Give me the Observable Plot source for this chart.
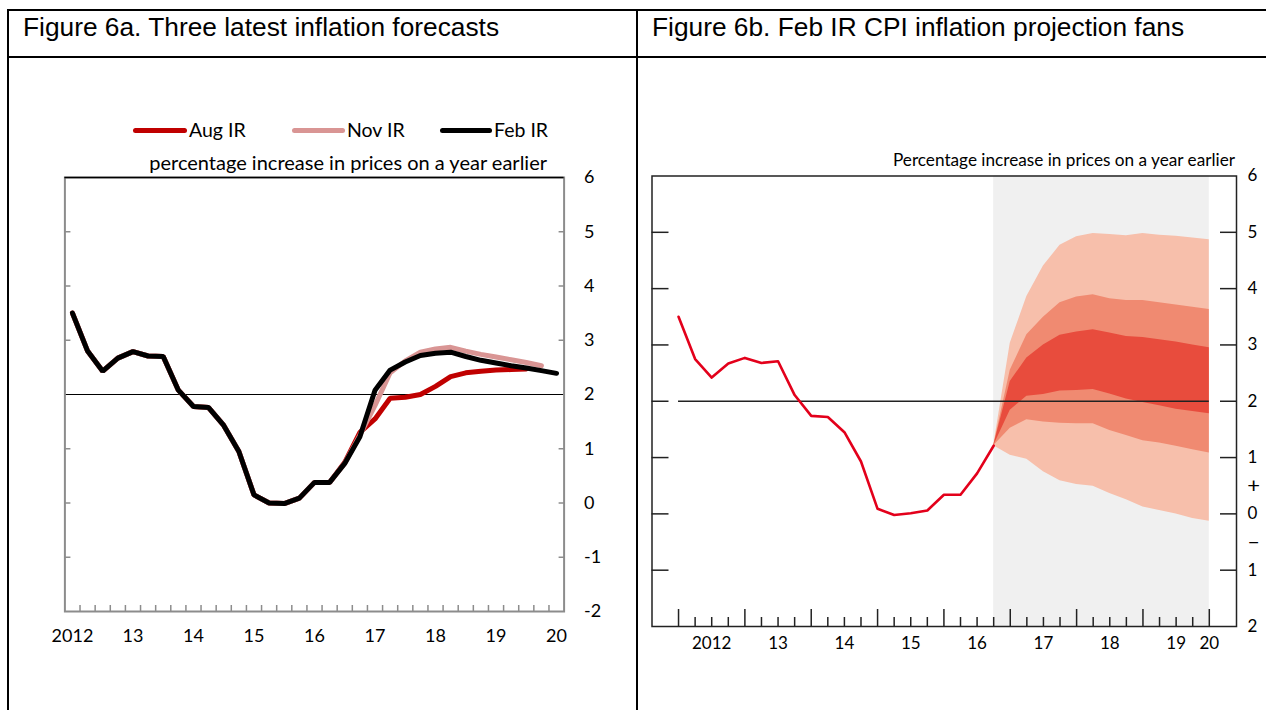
<!DOCTYPE html>
<html><head><meta charset="utf-8">
<script src="https://cdn.jsdelivr.net/npm/d3@7"></script>
<script src="https://cdn.jsdelivr.net/npm/@observablehq/plot@0.6"></script>
<style>
html,body{margin:0;padding:0;background:#fff;}
#page{position:relative;width:1266px;height:710px;overflow:hidden;background:#fff;}
.bl{position:absolute;background:#000;}
.title{position:absolute;font-family:"Liberation Sans",Arial,sans-serif;font-size:26.3px;line-height:30px;color:#000;white-space:nowrap;}
.txt{position:absolute;font-family:Lato,sans-serif;white-space:nowrap;color:#000;}
.sw{position:absolute;height:5px;border-radius:3px;}
.chart{position:absolute;}
</style></head>
<body><div id="page">
  <div class="bl" style="left:7px;top:9px;width:1270px;height:2px"></div>
  <div class="bl" style="left:7px;top:56px;width:1270px;height:2px"></div>
  <div class="bl" style="left:7px;top:9px;width:2px;height:720px"></div>
  <div class="bl" style="left:636px;top:9px;width:2px;height:720px"></div>
  <div class="title" style="left:23px;top:12px">Figure 6a. Three latest inflation forecasts</div>
  <div class="title" style="left:652px;top:12px">Figure 6b. Feb IR CPI inflation projection fans</div>
  <div id="legend"></div>
  <div class="txt" style="right:719px;top:150px;font-size:20px;line-height:24px">percentage increase in prices on a year earlier</div>
  <div class="txt" style="right:31px;top:149px;font-size:17.2px;line-height:22px">Percentage increase in prices on a year earlier</div>
  <div id="a" class="chart" style="left:10px;top:59px"></div>
  <div id="b" class="chart" style="left:639px;top:59px"></div>
</div>
<script>
// ---------- Figure 6a data (quarterly, first value = 2012 Q1) ----------
const startYear = 2012;
const cpiOutturn6a = [3.5, 2.8, 2.43, 2.67, 2.79, 2.71, 2.7, 2.08, 1.78, 1.76, 1.43, 0.95, 0.15, 0.0, -0.01, 0.09, 0.38, 0.38, 0.73, 1.22];
const augProjection = [0.75, 1.3, 1.55, 1.93, 1.95, 2.0, 2.15, 2.33, 2.4, 2.43, 2.45, 2.46, 2.47];   // from 2016 Q3
const novProjection = [1.25, 1.8, 2.4, 2.62, 2.78, 2.84, 2.87, 2.8, 2.74, 2.69, 2.64, 2.59, 2.53];   // from 2016 Q4
const febProjection = [2.08, 2.45, 2.6, 2.72, 2.76, 2.78, 2.7, 2.63, 2.58, 2.53, 2.49, 2.44, 2.39];  // from 2017 Q1
const seriesNames = ["Aug IR", "Nov IR", "Feb IR"];
const seriesColors = ["#c00000", "#d99594", "#000000"];
const yearTicks6a = [2012, 2013, 2014, 2015, 2016, 2017, 2018, 2019, 2020];
const yearLabels6a = ["2012", "13", "14", "15", "16", "17", "18", "19", "20"];
const yTicks6a = [-2, -1, 0, 1, 2, 3, 4, 5, 6];
const yLabels6a = ["-2", "-1", "0", "1", "2", "3", "4", "5", "6"];

// ---------- Figure 6b data ----------
const cpiOutturn6b = [3.5, 2.75, 2.42, 2.67, 2.77, 2.68, 2.71, 2.11, 1.74, 1.72, 1.45, 0.93, 0.09, -0.02, 0.01, 0.06, 0.34, 0.34, 0.72, 1.21];
// fan quarters from 2016 Q4 to 2020 Q1
const fanLightHigh = [1.21, 3.03, 3.86, 4.40, 4.77, 4.92, 4.98, 4.96, 4.94, 4.98, 4.95, 4.93, 4.90, 4.87];
const fanMedHigh   = [1.21, 2.55, 3.18, 3.49, 3.75, 3.85, 3.89, 3.82, 3.79, 3.79, 3.75, 3.71, 3.67, 3.63];
const fanDarkHigh  = [1.21, 2.35, 2.77, 3.00, 3.17, 3.23, 3.27, 3.21, 3.15, 3.13, 3.09, 3.05, 3.00, 2.95];
const fanDarkLow   = [1.21, 1.84, 2.09, 2.12, 2.18, 2.19, 2.21, 2.13, 2.04, 1.98, 1.92, 1.86, 1.82, 1.78];
const fanMedLow    = [1.21, 1.52, 1.67, 1.63, 1.61, 1.60, 1.60, 1.48, 1.39, 1.30, 1.26, 1.20, 1.14, 1.08];
const fanLightLow  = [1.21, 1.04, 0.97, 0.75, 0.59, 0.52, 0.49, 0.36, 0.25, 0.12, 0.06, 0.00, -0.08, -0.13];
const fanColors = ["#f7bfab", "#f08a71", "#e84c3d"];
const projectionPeriod = [{start: 2016.75, end: 2020}];
const targetLine = [{v: 2, from: 2012, to: 2020}];
const yearTicks6b = [2012, 2013, 2014, 2015, 2016, 2017, 2018, 2019, 2020];
const labelPos6b = [2012.5, 2013.5, 2014.5, 2015.5, 2016.5, 2017.5, 2018.5, 2019.5, 2020];
const labelTxt6b = ["2012", "13", "14", "15", "16", "17", "18", "19", "20"];
const yLabelPos6b = [6, 5, 4, 3, 2, 1, 0, -1, -2];
const yLabelTxt6b = ["6", "5", "4", "3", "2", "1", "0", "1", "2"];
const ySignPos6b = [0.5, -0.5];
const ySignTxt6b = ["+", "\u2013"];

// ---------- build tables ----------
const q = (i, offset) => startYear + (i + offset) / 4;
function series(name, hist, nHist, proj) {
  const vals = hist.slice(0, nHist).concat(proj);
  return vals.map((v, i) => ({name, t: q(i, 0), v}));
}
const augData = series("Aug IR", cpiOutturn6a, 18, augProjection);
const novData = series("Nov IR", cpiOutturn6a, 19, novProjection);
const febData = series("Feb IR", cpiOutturn6a, 20, febProjection);
const hist6b = cpiOutturn6b.map((v, i) => ({t: q(i, 0), v}));
const fan = fanLightHigh.map((_, i) => ({
  t: 2016.75 + i / 4,
  lh: fanLightHigh[i], mh: fanMedHigh[i], dh: fanDarkHigh[i],
  dl: fanDarkLow[i], ml: fanMedLow[i], ll: fanLightLow[i]
}));
const quarterTicks6a = d3.range(2012.125, 2020, 0.25);
const quarterTicks6b = d3.range(2012, 2020.01, 0.25).filter(d => d % 1 !== 0);
const lab6a = new Map(yearTicks6a.map((d, i) => [d, yearLabels6a[i]]));
const ylab6a = new Map(yTicks6a.map((d, i) => [d, yLabels6a[i]]));
const lab6b = new Map(labelPos6b.map((d, i) => [d, labelTxt6b[i]]));
const ylab6b = new Map(yLabelPos6b.map((d, i) => [d, yLabelTxt6b[i]]));
const ysign6b = new Map(ySignPos6b.map((d, i) => [d, ySignTxt6b[i]]));

// ---------- legend ----------
const legendPos = [[133, 189], [292, 347], [440, 494]];
const leg = document.getElementById("legend");
seriesNames.forEach((n, i) => {
  const s = document.createElement("div");
  s.className = "sw";
  s.style.cssText = `left:${legendPos[i][0]}px;top:127.5px;width:${legendPos[i][1] - legendPos[i][0] - 2}px;background:${seriesColors[i]}`;
  leg.appendChild(s);
  const t = document.createElement("div");
  t.className = "txt";
  t.style.cssText = `left:${legendPos[i][1]}px;top:118px;font-size:19.5px;line-height:24px`;
  t.textContent = n;
  leg.appendChild(t);
});

const gray = "#8c8c8c";
const chartA = Plot.plot({
  width: 625, height: 651,
  marginLeft: 54.4, marginRight: 71.4, marginTop: 118, marginBottom: 99,
  x: {domain: [2011.875, 2020.125]},
  y: {domain: [-2, 6]},
  style: {fontFamily: "Lato, sans-serif", fontSize: "18px", background: "transparent", overflow: "visible", color: "black"},
  marks: [
    Plot.ruleY([2], {stroke: "black", strokeWidth: 1}),
    Plot.axisX(quarterTicks6a, {anchor: "bottom", tickSize: -6, tickFormat: () => "", stroke: gray, strokeWidth: 1.5, label: null}),
    Plot.axisY([-1, 0, 1, 3, 4, 5], {anchor: "left", tickSize: -6, tickFormat: () => "", stroke: gray, strokeWidth: 1.5, label: null}),
    Plot.axisY([-1, 0, 1, 3, 4, 5], {anchor: "right", tickSize: -6, tickFormat: () => "", stroke: gray, strokeWidth: 1.5, label: null}),
    Plot.axisY(yTicks6a, {anchor: "right", tickSize: 0, tickPadding: 20, tickFormat: d => ylab6a.get(d), label: null}),
    Plot.axisX(yearTicks6a, {anchor: "bottom", tickSize: 0, tickPadding: 18, tickFormat: d => lab6a.get(d), label: null}),
    Plot.frame({stroke: gray, strokeWidth: 2}),
    Plot.ruleY([6], {stroke: "black", strokeWidth: 1.5}),
    Plot.line(augData, {x: "t", y: "v", stroke: seriesColors[0], strokeWidth: 5, strokeLinejoin: "miter"}),
    Plot.line(novData, {x: "t", y: "v", stroke: seriesColors[1], strokeWidth: 5, strokeLinejoin: "miter"}),
    Plot.line(febData, {x: "t", y: "v", stroke: seriesColors[2], strokeWidth: 5, strokeLinejoin: "miter"})
  ]
});
document.getElementById("a").appendChild(chartA);

const chartB = Plot.plot({
  width: 627, height: 651,
  marginLeft: 12.5, marginRight: 30, marginTop: 116.5, marginBottom: 84,
  x: {domain: [2011.6, 2020.41]},
  y: {domain: [-2, 6]},
  style: {fontFamily: "Lato, sans-serif", fontSize: "17px", background: "transparent", overflow: "visible", color: "black"},
  marks: [
    Plot.rect(projectionPeriod, {x1: "start", x2: "end", fill: "#f0f0f0"}),
    Plot.areaY(fan, {x: "t", y1: "ll", y2: "lh", fill: fanColors[0]}),
    Plot.areaY(fan, {x: "t", y1: "ml", y2: "mh", fill: fanColors[1]}),
    Plot.areaY(fan, {x: "t", y1: "dl", y2: "dh", fill: fanColors[2]}),
    Plot.ruleY(targetLine, {y: "v", x1: "from", x2: "to", stroke: "#222", strokeWidth: 1.3}),
    Plot.line(hist6b, {x: "t", y: "v", stroke: "#e3001b", strokeWidth: 2.6}),
    Plot.axisX(yearTicks6b, {anchor: "bottom", tickSize: -17, tickFormat: () => "", stroke: "#222", strokeWidth: 1.5, label: null}),
    Plot.axisX(quarterTicks6b, {anchor: "bottom", tickSize: -9, tickFormat: () => "", stroke: "#222", strokeWidth: 1.5, label: null}),
    Plot.axisY([-1, 0, 1, 2, 3, 4, 5], {anchor: "left", tickSize: -17, tickFormat: () => "", stroke: "#222", strokeWidth: 1.5, label: null}),
    Plot.axisY([-1, 0, 1, 2, 3, 4, 5], {anchor: "right", tickSize: -17, tickFormat: () => "", stroke: "#222", strokeWidth: 1.5, label: null}),
    Plot.axisY(yLabelPos6b, {anchor: "right", tickSize: 0, tickPadding: 16, textAnchor: "middle", tickFormat: d => ylab6b.get(d), label: null}),
    Plot.axisY(ySignPos6b, {anchor: "right", tickSize: 0, tickPadding: 17, textAnchor: "middle", fontSize: 22, tickFormat: d => ysign6b.get(d), label: null}),
    Plot.axisX(labelPos6b, {anchor: "bottom", tickSize: 0, tickPadding: 10, tickFormat: d => lab6b.get(d), label: null}),
    Plot.frame({stroke: "#222", strokeWidth: 1.5})
  ]
});
document.getElementById("b").appendChild(chartB);
</script>
</body></html>
